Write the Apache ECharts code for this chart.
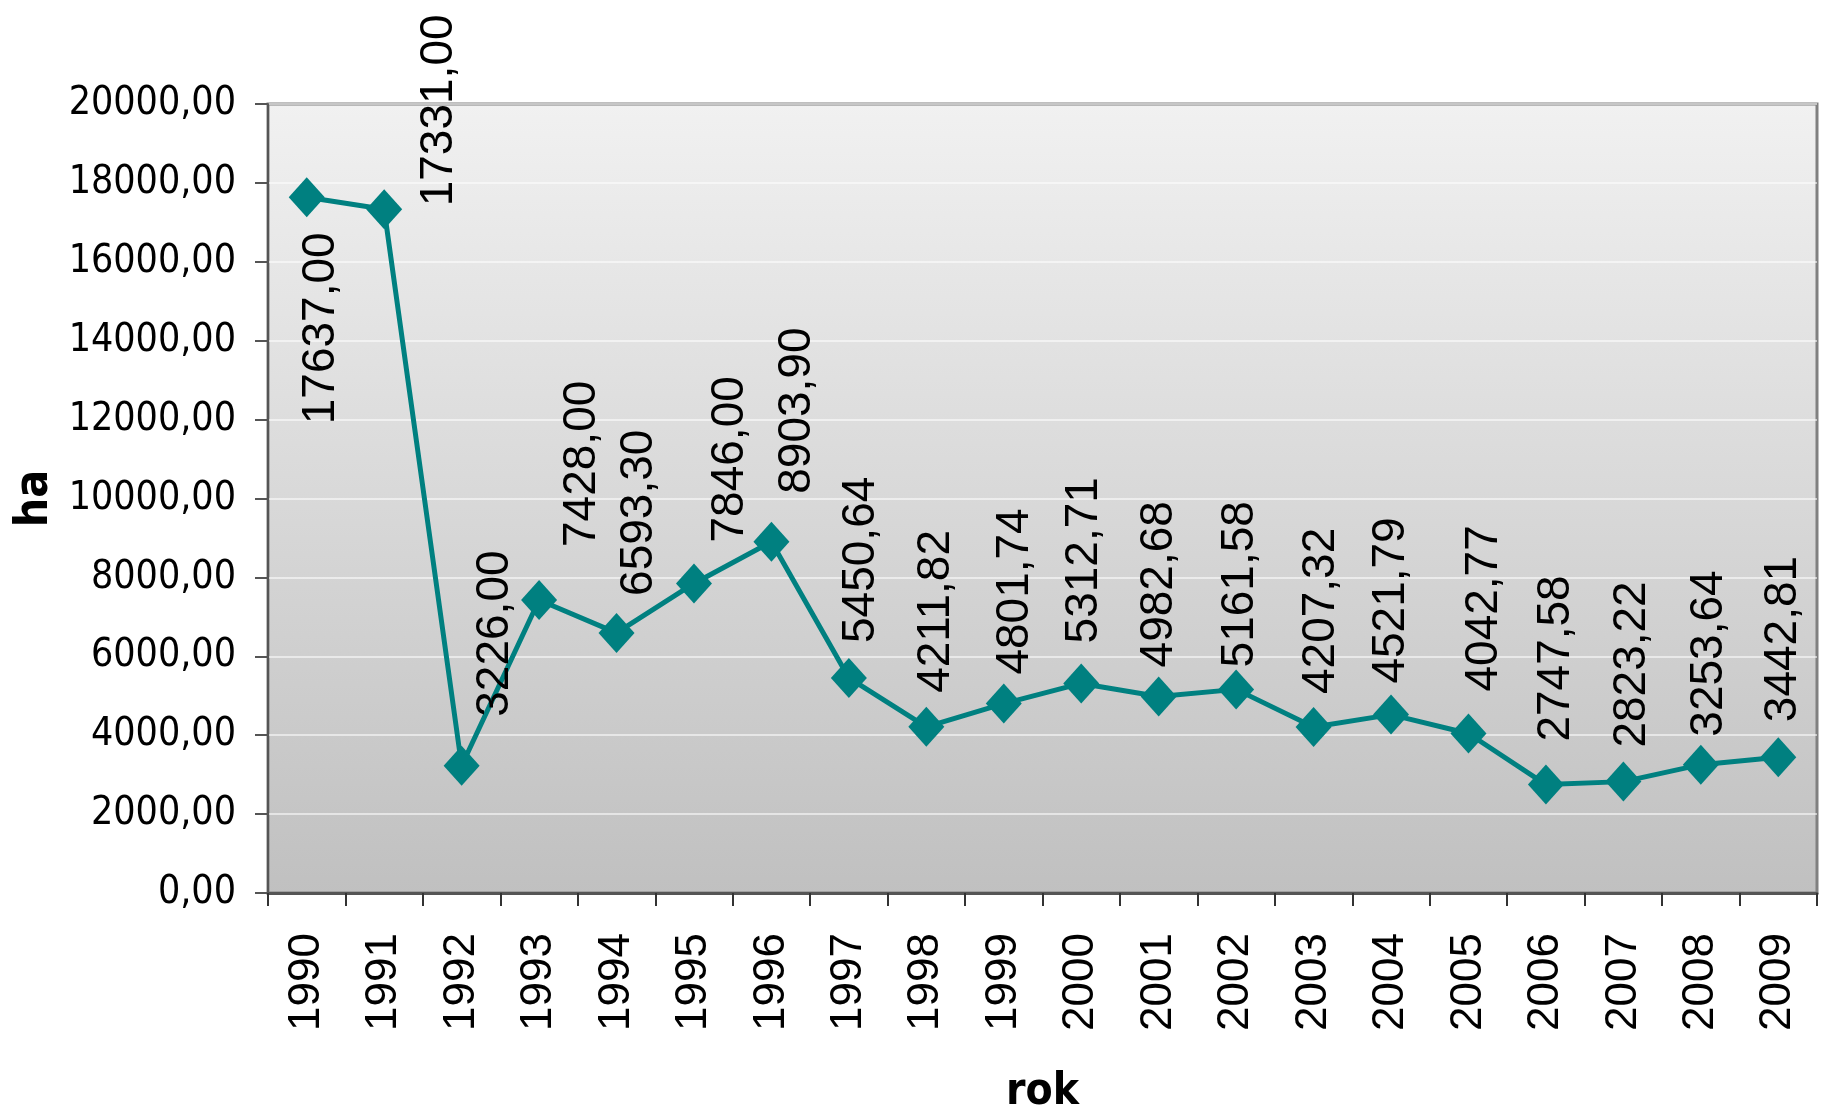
<!DOCTYPE html>
<html lang="pl">
<head>
    <meta charset="UTF-8">
    <title>ha / rok</title>
    <script type="text/javascript" src="https://cdn.jsdelivr.net/npm/echarts@6/dist/echarts.min.js"></script>
    <style>
        html, body { margin: 0; padding: 0; background: #fff; }
    </style>
</head>
<body>
    <div id="charts" style="width:1823px;height:1112px;"></div>
<script type="text/javascript">
    // dane z wykresu
    var years = ['1990', '1991', '1992', '1993', '1994', '1995', '1996', '1997', '1998', '1999',
        '2000', '2001', '2002', '2003', '2004', '2005', '2006', '2007', '2008', '2009'];
    var area = [17637.00, 17331.00, 3226.00, 7428.00, 6593.30, 7846.00, 8903.90, 5450.64, 4211.82, 4801.74,
        5312.71, 4982.68, 5161.58, 4207.32, 4521.79, 4042.77, 2747.58, 2823.22, 3253.64, 3442.81];
    var yTicks = { min: 0, max: 20000, interval: 2000 };

    // przesuniecie etykiet [w gore, w prawo] w px
    var labelShift = [[-227, 15], [3, 55], [49, 34], [53, 43], [37, 23], [41, 36], [48, 26], [35, 12],
        [34, 10], [29, 12], [40, 3], [29, 1], [22, 4], [33, 8], [31, 0], [42, 16], [43, 10], [34, 9],
        [28, 8], [35, 5]];

    var narrow = "'DejaVu Sans Condensed', 'Liberation Sans', sans-serif";

    function fmt(v) {
        return v.toFixed(2).replace('.', ',');
    }

    var myChart = echarts.init(document.getElementById('charts'));

    var option = {
        animation: false,
        grid: {
            left: 268, right: 6, top: 104, bottom: 219,
            outerBoundsMode: 'none',
            containLabel: false,
            show: true,
            borderColor: '#808080',
            borderWidth: 3,
            backgroundColor: new echarts.graphic.LinearGradient(0, 0, 0, 1, [
                { offset: 0, color: '#f1f1f1' },
                { offset: 1, color: '#c0c0c0' }
            ])
        },
        xAxis: {
            type: 'category',
            data: years,
            boundaryGap: true,
            name: 'rok',
            nameLocation: 'middle',
            nameGap: 178,
            nameTextStyle: { fontFamily: narrow, fontWeight: 'bold', fontSize: 44, color: '#000' },
            axisLine: { lineStyle: { color: '#555', width: 3 } },
            axisTick: { show: true, length: 13, lineStyle: { color: '#333', width: 2 } },
            axisLabel: {
                rotate: 90, margin: 40, fontFamily: 'Liberation Sans', fontSize: 44, color: '#000'
            },
            splitLine: { show: false }
        },
        yAxis: {
            type: 'value',
            min: yTicks.min, max: yTicks.max, interval: yTicks.interval,
            name: 'ha',
            nameLocation: 'middle',
            nameGap: 208,
            nameTextStyle: { fontFamily: narrow, fontWeight: 'bold', fontSize: 46, color: '#000' },
            axisLine: { show: true, lineStyle: { color: '#555', width: 2 } },
            axisTick: { show: true, length: 13, lineStyle: { color: '#555', width: 2 } },
            axisLabel: {
                margin: 32, fontFamily: narrow, fontSize: 39, color: '#000',
                formatter: fmt
            },
            splitLine: { lineStyle: { color: 'rgba(255,255,255,0.55)', width: 2 } }
        },
        series: [{
            type: 'line',
            data: area.map(function (v, i) {
                return {
                    value: v,
                    label: { offset: labelShift[i] }
                };
            }),
            symbol: 'diamond',
            symbolSize: [36, 40],
            lineStyle: { color: '#008080', width: 5 },
            itemStyle: { color: '#008080' },
            label: {
                show: true,
                position: 'inside',
                rotate: 90,
                align: 'left',
                verticalAlign: 'middle',
                fontFamily: 'Liberation Sans',
                fontSize: 46,
                color: '#000',
                formatter: function (p) { return fmt(p.value); }
            },
            z: 3
        }]
    };

    myChart.setOption(option);
</script>
</body>
</html>
